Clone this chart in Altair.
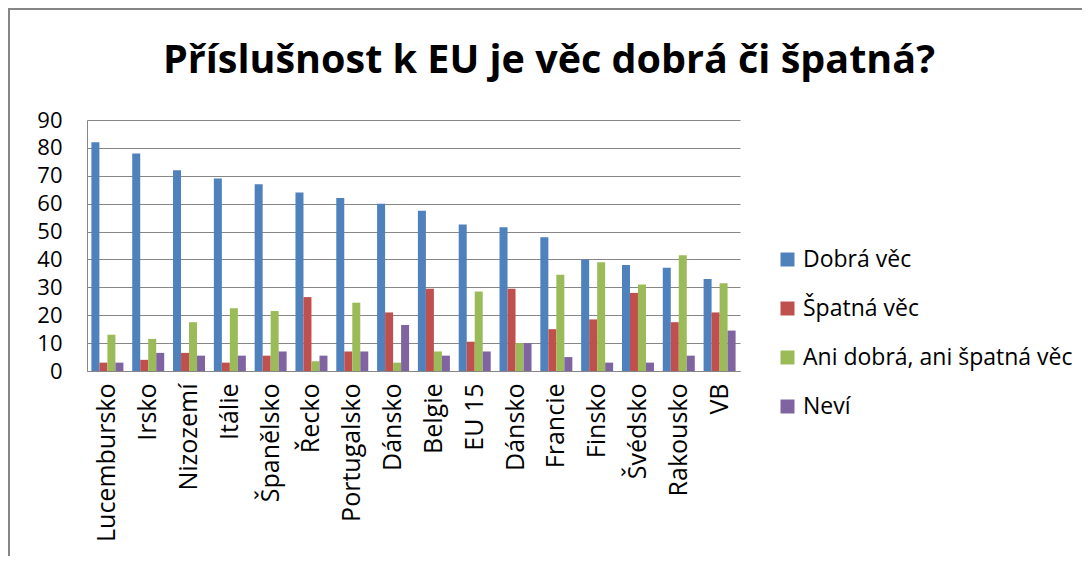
import altair as alt
import pandas as pd

TITLE = "Příslušnost k EU je věc dobrá či špatná?"

countries = ["Lucembursko", "Irsko", "Nizozemí", "Itálie", "Španělsko", "Řecko",
             "Portugalsko", "Dánsko", "Belgie", "EU 15", "Dánsko", "Francie",
             "Finsko", "Švédsko", "Rakousko", "VB"]

series = ["Dobrá věc", "Špatná věc", "Ani dobrá, ani špatná věc", "Neví"]
colors = ["#4F81BD", "#C0504D", "#9BBB59", "#8064A2"]

good = [82, 78, 72, 69, 67, 64, 62, 60, 57.5, 52.5, 51.5, 48, 40, 38, 37, 33]
bad = [3, 4, 6.5, 3, 5.5, 26.5, 7, 21, 29.5, 10.5, 29.5, 15, 18.5, 28, 17.5, 21]
neither = [13, 11.5, 17.5, 22.5, 21.5, 3.5, 24.5, 3, 7, 28.5, 10, 34.5, 39, 31, 41.5, 31.5]
dont_know = [3, 6.5, 5.5, 5.5, 7, 5.5, 7, 16.5, 5.5, 7, 10, 5, 3, 3, 5.5, 14.5]

y_ticks = [0, 10, 20, 30, 40, 50, 60, 70, 80, 90]

rows = []
for i, c in enumerate(countries):
    for s, vals in zip(series, [good, bad, neither, dont_know]):
        rows.append({"idx": i, "country": c, "series": s, "value": vals[i]})
df = pd.DataFrame(rows)

label_expr = "[" + ",".join("'" + c + "'" for c in countries) + "][datum.value]"

FONT = "Open Sans"
GRAY = "#868686"

bars = alt.Chart(df).mark_bar().encode(
    x=alt.X("idx:O",
            scale=alt.Scale(paddingInner=0.216, paddingOuter=0.108),
            axis=alt.Axis(title=None, labelExpr=label_expr, labelAngle=-90,
                          labelPadding=12, ticks=False, grid=False,
                          labelFontSize=25, labelLimit=300)),
    xOffset=alt.XOffset("series:N", sort=series),
    y=alt.Y("value:Q",
            scale=alt.Scale(domain=[0, 90], nice=False),
            axis=alt.Axis(title=None, values=y_ticks, ticks=False,
                          labelPadding=25, labelFontSize=22, grid=True)),
    color=alt.Color("series:N",
                    scale=alt.Scale(domain=series, range=colors),
                    legend=alt.Legend(title=None, orient="none", legendX=689,
                                      legendY=128, symbolType="square",
                                      symbolSize=196, symbolStrokeWidth=0,
                                      labelFont=FONT, labelFontSize=23,
                                      labelColor="black", rowPadding=25,
                                      labelOffset=4, padding=0,
                                      labelLimit=400)),
)

title = alt.Chart(alt.Data(values=[{"t": TITLE}])).mark_text(
    font=FONT, fontSize=39.5, fontWeight="bold", align="center",
    baseline="alphabetic", color="black"
).encode(x=alt.value(462), y=alt.value(-47), text="t:N")

frame_top = alt.Chart(alt.Data(values=[{"k": 1}])).mark_rule(
    color=GRAY, strokeWidth=2
).encode(x=alt.value(-79), x2=alt.value(995), y=alt.value(-111))

frame_left = alt.Chart(alt.Data(values=[{"k": 1}])).mark_rule(
    color=GRAY, strokeWidth=2
).encode(x=alt.value(-78), y=alt.value(-112), y2=alt.value(436))

chart = alt.layer(frame_top, frame_left, title, bars).properties(
    width=653, height=251,
    padding={"left": 79, "top": 112, "right": 342, "bottom": 185},
    autosize=alt.AutoSizeParams(type="none"),
).configure_axis(
    labelFont=FONT, labelColor="black", gridColor=GRAY, domainColor=GRAY,
    gridWidth=1, domainWidth=1
).configure_view(stroke=None)

chart.save("out.html", embed_options={"renderer": "svg", "actions": False})
